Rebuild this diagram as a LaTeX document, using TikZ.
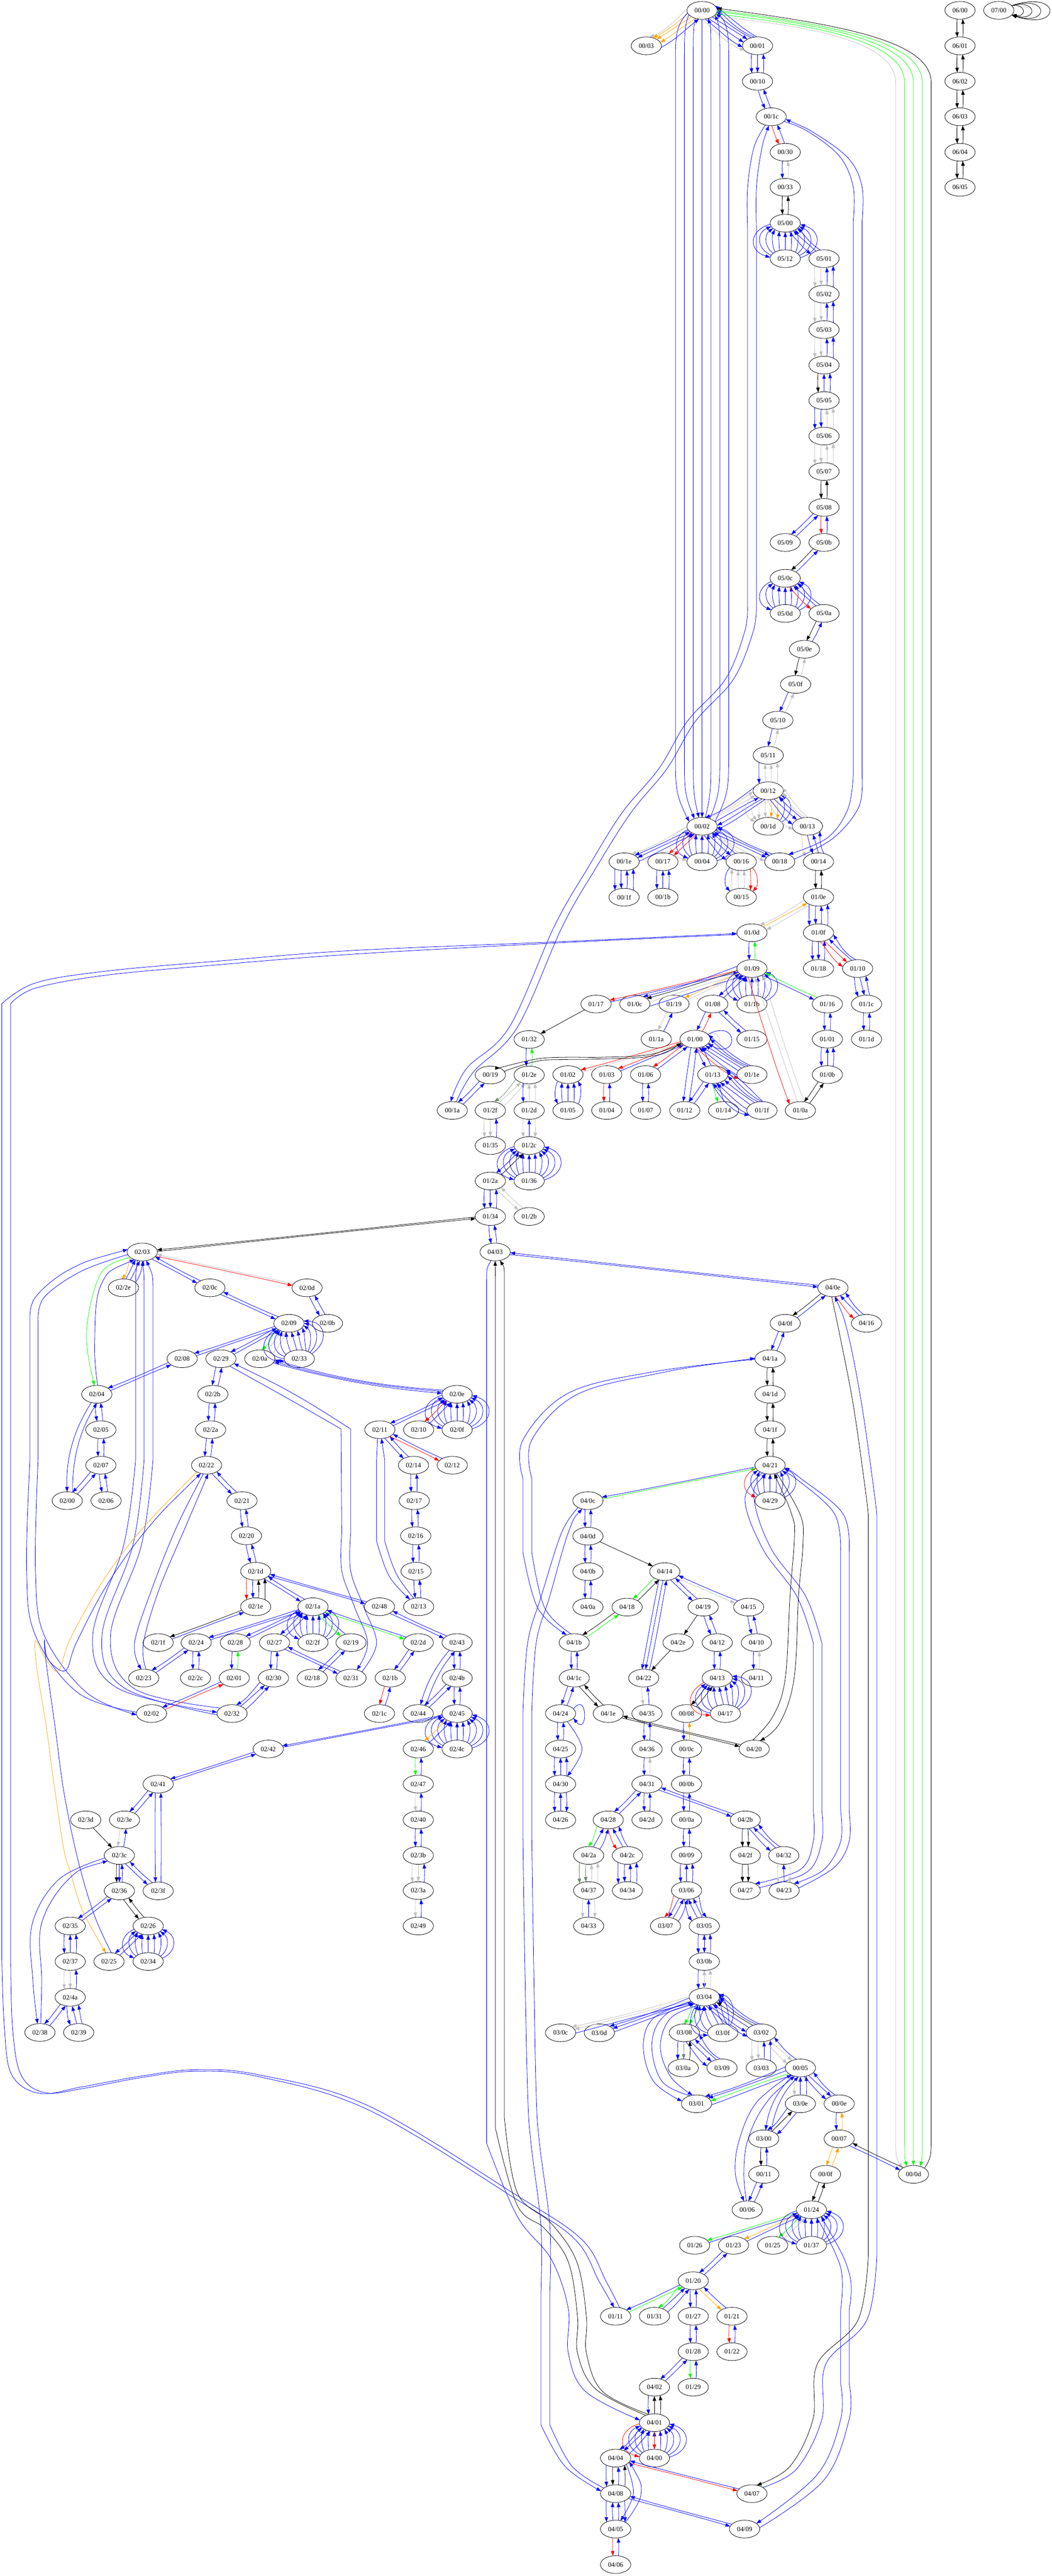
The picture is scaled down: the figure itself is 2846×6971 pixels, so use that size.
\documentclass[tikz,border=0pt]{standalone}
\usepackage{fontspec}
\setmainfont{Liberation Serif}
\usepackage{xcolor}
\usetikzlibrary{arrows.meta,shapes.geometric,calc}

\definecolor{wiregray}{HTML}{C0C0C0}
\definecolor{wireorange}{HTML}{FFA500}
\definecolor{wiresea}{HTML}{698B69}

\tikzset{
    state/.style={draw, ellipse, line width=1.1pt, inner sep=0pt, outer sep=0pt, minimum width=82pt, minimum height=48pt},
    wire/.style={line width=1.1pt},
    tipF/.style={wire, -{Triangle[length=13pt,width=9.5pt]}},
    tipB/.style={wire, {Triangle[length=13pt,width=9.5pt]}-},
    bF/.style={tipF, blue}, bB/.style={tipB, blue},
    kF/.style={tipF, black}, kB/.style={tipB, black},
    gF/.style={tipF, wiregray}, gB/.style={tipB, wiregray},
    rF/.style={tipF, red}, rB/.style={tipB, red},
    nF/.style={tipF, green}, nB/.style={tipB, green},
    oF/.style={tipF, wireorange}, oB/.style={tipB, wireorange},
    sF/.style={tipF, wiresea}, sB/.style={tipB, wiresea},
    tube/.style={smooth, tension=.6}
}

% parallel edges between two states, listed from the right-hand side of travel
\pgfkeys{/fan/.cd, gap/.store in=\fanGap, bow/.store in=\fanBow}
\newcommand{\fan}[4][]{%
  \begingroup
  \pgfkeys{/fan/.cd, gap=0, bow=0, #1}%
  \pgfpointdiff{\pgfpointanchor{#2}{center}}{\pgfpointanchor{#3}{center}}%
  \pgfgetlastxy{\fanX}{\fanY}%
  \pgfmathsetmacro\fanDir{atan2(\fanY,\fanX)}%
  \pgfmathsetmacro\fanLen{veclen(\fanX,\fanY)}%
  \pgfmathsetmacro\fanStep{\fanGap>0 ? \fanGap : max(17*abs(sin(\fanDir)),3)}%
  \pgfmathsetmacro\fanAlong{max((\fanLen-44)*0.33,8)}%
  \foreach \fanS [count=\fanK] in {#4}{\xdef\fanN{\fanK}}%
  \foreach \fanS [count=\fanK] in {#4}{%
    \pgfmathsetmacro\fanW{\fanStep*((\fanN+1)/2-\fanK)}%
    \pgfmathsetmacro\fanAbs{abs(\fanW)}%
    \pgfmathsetmacro\fanB{(\fanAbs<=25 ? 2.1*\fanAbs : 52.5+0.55*(\fanAbs-25))*(\fanW<0 ? -1 : 1)}%
    \pgfmathsetmacro\fanP{mod(\fanDir-\fanB+720,360)}%
    \pgfmathsetmacro\fanQ{mod(\fanDir+180+\fanB+720,360)}%
    \pgfmathsetmacro\fanR{984/veclen(24*cos(\fanP),41*sin(\fanP))}%
    \pgfmathsetmacro\fanSide{4/3*(\fanW-\fanR*sin(\fanB)+\fanBow)}%
    \pgfmathsetmacro\fanC{atan2(\fanSide,\fanAlong)}%
    \pgfmathsetmacro\fanL{veclen(\fanSide,\fanAlong)}%
    \pgfmathsetmacro\fanCa{\fanDir-\fanC}%
    \pgfmathsetmacro\fanCb{\fanDir+180+\fanC}%
    \draw[\fanS] (#2.\fanP) .. controls +(\fanCa:\fanL pt) and +(\fanCb:\fanL pt) .. (#3.\fanQ);
  }%
  \endgroup
}

\begin{document}
\begin{tikzpicture}[x=1pt, y=-1pt, font=\fontsize{18}{20}\selectfont]
\useasboundingbox (0,0) rectangle (2846,6971);

% States
\foreach \pg/\id/\x/\y in {
  00/00/1900/28, 00/03/1749/124, 00/01/2050/124, 00/10/2050/220, 00/1c/2087/316, 00/30/2125/412, 00/33/2125/507,
  05/00/2125/604, 05/12/2125/700, 05/01/2230/700, 05/02/2230/796, 05/03/2230/892, 05/04/2230/988, 05/05/2230/1084,
  05/06/2230/1180, 05/07/2230/1276, 05/08/2230/1373, 05/09/2125/1468, 05/0b/2230/1468, 05/0c/2125/1565,
  05/0d/2125/1660, 05/0a/2230/1660, 05/0e/2177/1757, 05/0f/2153/1852, 05/10/2105/1949, 05/11/2079/2044,
  06/00/2598/28, 06/01/2598/124, 06/02/2598/220, 06/03/2598/316, 06/04/2598/412, 06/05/2598/507, 07/00/2703/28,
  00/12/2079/2140, 00/02/1900/2236, 00/1d/2079/2236, 00/13/2185/2236, 00/1e/1689/2332, 00/17/1794/2332,
  00/04/1900/2332, 00/16/2006/2332, 00/18/2110/2332, 00/14/2215/2332, 00/1f/1689/2428, 00/1b/1794/2428,
  00/15/2006/2428, 01/0e/2215/2428, 01/0d/2035/2524, 01/0f/2215/2524, 01/09/2035/2621, 01/18/2215/2621,
  01/10/2321/2621, 01/17/1613/2717, 01/0c/1718/2717, 01/19/1824/2717, 01/08/1929/2717, 01/1b/2035/2717,
  01/16/2239/2717, 01/1c/2345/2717, 01/32/1432/2813, 01/1a/1776/2812, 01/00/1881/2812, 01/15/2035/2812,
  01/01/2239/2812, 01/1d/2345/2812, 00/19/1327/2909, 01/2e/1432/2909, 01/02/1537/2908, 01/03/1642/2908,
  01/06/1747/2908, 01/13/1929/2908, 01/1e/2035/2908, 01/0b/2239/2908, 00/1a/1224/3005, 01/2f/1327/3005,
  01/2d/1432/3005, 01/05/1537/3005, 01/04/1642/3005, 01/07/1747/3005, 01/12/1853/3005, 01/14/1958/3005,
  01/1f/2062/3005, 01/0a/2166/3005, 01/35/1327/3100, 01/2c/1432/3100, 01/2a/1327/3196, 01/36/1432/3196,
  01/34/1327/3292, 01/2b/1432/3292, 04/03/1340/3388,
  02/03/385/3388, 02/2e/334/3485, 02/0c/568/3485, 02/0d/831/3485, 02/09/782/3581, 02/0b/886/3581, 02/08/493/3677,
  02/29/598/3677, 02/0a/703/3677, 02/33/810/3677, 02/04/262/3773, 02/2b/576/3773, 02/0e/1237/3773, 02/05/273/3869,
  02/2a/570/3869, 02/11/1028/3869, 02/10/1133/3869, 02/0f/1237/3869, 02/07/273/3965, 02/22/559/3965, 02/14/1119/3965,
  02/12/1224/3965, 02/00/182/4061, 02/06/287/4061, 02/21/655/4061, 02/17/1121/4061, 02/20/667/4156, 02/16/1125/4156,
  02/1d/692/4252, 02/15/1126/4252, 02/1e/692/4348, 02/1a/847/4348, 02/48/1027/4348, 02/13/1133/4348, 02/1f/428/4445,
  02/24/531/4445, 02/28/637/4445, 02/27/743/4445, 02/2f/847/4445, 02/19/950/4445, 02/2d/1132/4445, 02/43/1237/4445,
  02/23/389/4541, 02/2c/529/4541, 02/01/634/4541, 02/30/740/4541, 02/18/845/4541, 02/31/950/4541, 02/1b/1056/4541,
  02/4b/1237/4541, 02/02/410/4637, 02/32/628/4637, 02/1c/1027/4637, 02/44/1132/4637, 02/45/1237/4637, 02/42/726/4733,
  02/46/1132/4733, 02/4c/1237/4733, 02/41/428/4828, 02/47/1132/4828, 02/3d/232/4925, 02/3e/337/4925, 02/40/1132/4925,
  02/3b/1132/5021, 02/3a/1132/5116, 02/49/1132/5212, 02/3c/323/5021, 02/36/323/5117, 02/3f/428/5117, 02/35/190/5212,
  02/26/401/5212, 02/37/190/5308, 02/25/295/5308, 02/34/401/5308, 02/4a/190/5405, 02/38/108/5500, 02/39/213/5500,
  04/0e/2254/3485, 04/0f/2125/3581, 04/16/2345/3581, 04/1a/2084/3677, 04/1d/2084/3773, 04/1f/2084/3869, 04/21/2084/3965,
  04/0c/1591/4061, 04/29/2084/4061, 04/0d/1591/4157, 04/14/1799/4253, 04/0b/1591/4253, 04/0a/1591/4349, 04/18/1697/4349,
  04/19/1903/4349, 04/15/2026/4349, 04/1b/1554/4445, 04/2e/1835/4445, 04/12/1941/4445, 04/10/2047/4445, 04/1c/1554/4541,
  04/22/1742/4541, 04/13/1941/4541, 04/11/2047/4541, 04/24/1517/4637, 04/1e/1646/4637, 04/35/1751/4637, 00/08/1858/4637,
  04/17/1963/4637, 04/25/1517/4733, 04/36/1751/4733, 00/0c/1858/4733, 04/20/2041/4733, 04/30/1517/4828, 04/31/1751/4828,
  00/0b/1858/4828, 04/26/1517/4925, 04/28/1646/4925, 04/2d/1751/4925, 00/0a/1858/4925, 04/2b/2017/4925, 04/2a/1593/5021,
  04/2c/1698/5021, 00/09/1858/5021, 04/2f/2017/5021, 04/32/2121/5021, 04/37/1593/5116, 04/34/1698/5116, 03/06/1858/5116,
  04/27/2017/5116, 04/23/2122/5116, 04/33/1593/5212, 03/07/1801/5212, 03/05/1906/5212, 03/0b/1906/5308, 03/04/1906/5404,
  03/0c/1517/5501, 03/0d/1622/5501, 03/08/1852/5501, 03/0f/1956/5501, 03/02/2060/5501, 03/0a/1849/5596, 03/09/1954/5596,
  03/03/2060/5596, 00/05/2166/5596, 03/01/1885/5693, 03/0e/2166/5693, 00/0e/2271/5693, 03/00/2067/5788, 00/07/2271/5788,
  00/11/2067/5884, 00/0f/2234/5884, 00/0d/2472/5884, 00/06/2022/5980, 01/24/2196/5980, 01/26/1880/6076, 01/23/1985/6076,
  01/25/2091/6076, 01/37/2196/6076, 01/20/1876/6172, 01/11/1666/6268, 01/31/1771/6268, 01/27/1876/6268, 01/21/1981/6268,
  01/28/1876/6364, 01/22/1981/6364, 04/02/1771/6460, 01/29/1876/6460, 04/01/1771/6556, 04/04/1666/6652, 04/00/1771/6652,
  04/08/1666/6748, 04/07/2035/6748, 04/05/1666/6844, 04/09/2015/6844, 04/06/1666/6940}
  \node[state] (n\pg\id) at (\x,\y) {\pg/\id};

% Plain pairs
\foreach \a/\b in {n0010/n001c, n0508/n0509, n0116/n0101, n011c/n011d, n0108/n0115, n0100/n0113, n0100/n0112, n0113/n0112,
  n0019/n001a, n0134/n0403, n0106/n0107, n0203/n020c, n020c/n0209, n020d/n020b, n0209/n0208, n0209/n0229, n0208/n0204,
  n0229/n022b, n022b/n022a, n022a/n0222, n0211/n0214, n020e/n0211, n0214/n0217, n0217/n0216, n0216/n0215, n0215/n0213,
  n0204/n0205, n0205/n0207, n0207/n0200, n0207/n0206, n0222/n0221, n0221/n0220, n0220/n021d, n021d/n021a, n021d/n0248,
  n0248/n0243, n021a/n0224, n021a/n0228, n021a/n0227, n0224/n0223, n0224/n022c, n0227/n0230, n0227/n0231, n0219/n0218,
  n022d/n021b, n0243/n024b, n024b/n0245, n024b/n0244, n0245/n0242, n0242/n0241, n0241/n023e, n0241/n023f, n023c/n023f,
  n0236/n0235, n024a/n0238, n0226/n0225, n0240/n023b, n0403/n040e, n040f/n041a, n040c/n040d, n040d/n040b, n040b/n040a,
  n0414/n0419, n0419/n0412, n0412/n0413, n0415/n0410, n041b/n041c, n041c/n0424, n0435/n0436, n000c/n000b, n000b/n000a,
  n000a/n0009, n0424/n0425, n0431/n0428, n0431/n042d, n0431/n042b, n0011/n0006, n0123/n0120, n0120/n0127, n0127/n0128,
  n0128/n0402, n0408/n0409}
  \fan{\a}{\b}{bF,bB};
\foreach \a/\b in {n0033/n0500, n0507/n0508, n0014/n010e, n010b/n010a, n0236/n0226, n041a/n041d, n041d/n041f, n041f/n0421,
  n041c/n041e, n0413/n0008, n041e/n0420, n000f/n0124, n0600/n0601, n0601/n0602, n0602/n0603, n0603/n0604, n0604/n0605,
  n0134/n0203}
  \fan{\a}{\b}{kF,kB};

% Page 00 and 05
\fan{n0000}{n0003}{gF,oF,oF,oF,bB}
\fan[gap=9]{n0000}{n0001}{gF,bF,bF,bF,bB,bB,bB}
\fan{n0001}{n0010}{bF,bF,bB}
\fan{n001c}{n0030}{rF,bB}
\fan{n0030}{n0033}{bF,gB}
\fan{n0500}{n0512}{bF,bB,bB,bB,bB,bB,bB,bB,bB,bB,bB}
\fan{n0500}{n0501}{bF,bB,bB}
\foreach \a/\b in {n0501/n0502, n0502/n0503, n0503/n0504}
  \fan{\a}{\b}{gF,gF,bB,bB};
\fan{n0504}{n0505}{kF,bB,bB}
\fan{n0505}{n0506}{bF,bF,gB,gB}
\fan{n0506}{n0507}{gF,gF,gB,gB}
\fan{n0508}{n050b}{rF,bB}
\fan{n050b}{n050c}{kF,bB}
\fan{n050c}{n050d}{bF,bB,bB,bB,bB,bB,bB,bB,bB}
\fan{n050c}{n050a}{rF,bB,bB}
\fan{n050a}{n050e}{kF,bB}
\fan{n050e}{n050f}{kF,gB}
\fan{n050f}{n0510}{bF,gB}
\fan{n0510}{n0511}{bF,gB}
\fan{n0511}{n0012}{bF,gB,gB,gB}
\fan[gap=8]{n0012}{n0002}{bF,gB,gB,bB,bF,bF}
\fan{n0012}{n001d}{gF,gF,gF,gF,oF,oF,bB,bB}
\fan{n0012}{n0013}{gF,bF,bF,bB,gB,gB}
\fan{n0002}{n001e}{gF,bF,bF,bB}
\fan{n0002}{n0017}{rF,rF}
\fan{n0002}{n0004}{gF,bF,bB,bB,bB,bB,bB,bB,bB,bB,bB}
\fan{n0002}{n0016}{bF,bF,bB,gB}
\fan{n0002}{n0018}{gF,bF,bF,bB}
\fan{n0013}{n0014}{gF,bF,bB,bB}
\fan{n001e}{n001f}{bF,bF,bB,bB}
\fan{n0017}{n001b}{bF,bB,bB}
\fan{n0016}{n0015}{bF,gB,gB,gB,rF,rF}

% Long runs from 00/00
\foreach \x/\sty/\aA/\aB in {1828/bF/190/160, 1852/bF/198/135, 1876/bF/230/110, 1900/bF/270/90,
  1924/bB/305/70, 1948/bB/340/45, 1972/bB/355/20}
  \draw[\sty] (n0000.\aA) .. controls (\x,70) and (\x,100) .. (\x,170) -- (\x,2040) .. controls (\x,2130) and (\x,2150) .. (n0002.\aB);
\foreach \x/\sty/\aA/\aB in {2424/gF/330/151, 2448/nF/345/130, 2472/nF/355/90, 2496/nF/0/50, 2520/kB/8/29}
  \draw[\sty] (n0000.\aA) .. controls ({\x-220},70) and (\x,115) .. (\x,224) -- (\x,5780) .. controls (\x,5830) and (\x,5840) .. (n000d.\aB);
\draw[bF] plot[tube] coordinates {(n001c.235) (2040,400) (2023,510) (2023,620)} -- plot[tube] coordinates {(2023,1640) (2015,1710) (1963,1838) (1860,1952) (1783,2080) (1683,2200) (1590,2350) (1500,2507) (1378,2780) (1263,2891) (n001a.100)};
\draw[bB] plot[tube] coordinates {(n001c.255) (2060,410) (2047,510) (2047,620)} -- plot[tube] coordinates {(2047,1640) (2038,1710) (1985,1838) (1882,1952) (1805,2080) (1707,2200) (1612,2350) (1522,2507) (1400,2780) (1282,2900) (n001a.65)};
\draw[bF] plot[tube] coordinates {(n001c.340) (2187,356) (2272,423) (2309,506) (2309,600)} -- plot[tube] coordinates {(2309,2100) (2294,2191) (2238,2268) (n0018.40)};
\draw[bB] plot[tube] coordinates {(n001c.350) (2212,365) (2298,431) (2333,506) (2333,600)} -- plot[tube] coordinates {(2333,2100) (2324,2184) (2255,2268) (n0018.10)};

% Page 01
\fan{n010e}{n010d}{gF,oB,gF}
\fan{n010e}{n010f}{bF,bF,bB,bB}
\fan{n010d}{n0109}{bF,nB}
\fan{n010f}{n0118}{bF,bF,bB}
\fan{n010f}{n0110}{rF,rF,bB,bB}
\fan{n0110}{n011c}{bF,bF,bB}
\fan{n0109}{n0117}{rF,bB}
\fan[gap=8]{n0109}{n010c}{bF,kF,gB,bB}
\fan{n0109}{n0119}{oF,gB}
\fan{n0109}{n0108}{bF,bB}
\fan{n0109}{n011b}{bF,bB,bB,bB,bB,bB,bB,bB,bB}
\fan{n0109}{n0116}{bF,nB}
\fan[gap=20]{n0109}{n010a}{rF,gB,gB}
\fan{n0119}{n011a}{gF,bB}
\fan{n0108}{n0100}{bF,rB}
\fan{n0101}{n010b}{bF,bB,bB}
\fan{n0100}{n0102}{rF,gB}
\fan{n0100}{n0103}{rF,bB}
\fan{n0100}{n0106}{rF,bB}
\fan[gap=8]{n0100}{n011e}{rF,bB,bB,bB,bB,bB,bB}
\fan{n0113}{n0114}{nF,bB}
\fan{n0113}{n011f}{bF,bB,bB,bB,bB,bB,bB,bB}
\fan{n0102}{n0105}{bF,bB,bB,bB,bB}
\fan{n0103}{n0104}{rF,bB}
\fan{n0117}{n0132}{kF}
\fan{n0132}{n012e}{bF,nB}
\fan{n012e}{n012f}{sF,gB,gB}
\fan{n012e}{n012d}{bF,gB,gB}
\fan{n012f}{n0135}{gF,gF,bB}
\fan{n012d}{n012c}{gF,bB,gF}
\fan{n012c}{n0136}{bF,bB,bB,bB,bB,bB,bB,bB,bB,bB,bB}
\fan{n012c}{n012a}{bF,kB}
\fan{n012a}{n0134}{bF,bF,bB}
\fan{n012a}{n012b}{gF,gB}
\foreach \X/\h/\sty in {1955/28/gF, 2000/58/bF}
  \draw[\sty] (n0100.20) .. controls (\X,{2812-\h}) and (\X,{2812+\h}) .. (n0100.340);
\foreach \X/\h in {1591/62}
  \draw[bF] (n0424.20) .. controls (\X,{4637-\h}) and (\X,{4637+\h}) .. (n0424.340);
\foreach \X/\h in {2769/18, 2792/30, 2816/44, 2841/58}
  \draw[kF] (n0700.20) .. controls ({(\X-685.5)/.75},{28-\h}) and ({(\X-685.5)/.75},{28+\h}) .. (n0700.340);
\draw[kF] plot[tube] coordinates {(n0100.200) (1757,2854) (1629,2861) (1534,2861) (1457,2865) (1365,2886) (n0019.35)};
\draw[kB] plot[tube] coordinates {(n0100.195) (1763,2858) (1610,2866) (1534,2867) (1457,2871) (1375,2895) (n0019.10)};

% 01/0d round the left edge to 01/11
\draw[bB] plot[tube] coordinates {(n010d.183) (1500,2549) (957,2572) (600,2600) (287,2628) (96,2660) (5,2716)} -- plot[tube] coordinates {(5,5300) (12,5488) (32,5615) (108,5665) (223,5647) (383,5618) (529,5601) (702,5615) (1000,5700) (1400,5942) (1575,6061) (1640,6173) (n0111.65)};
\draw[bF] plot[tube] coordinates {(n010d.187) (1500,2552) (957,2582) (600,2610) (287,2639) (96,2674) (29,2716)} -- plot[tube] coordinates {(29,5300) (34,5488) (57,5615) (121,5663) (223,5652) (383,5622) (529,5605) (702,5620) (1000,5711) (1400,5953) (1557,6061) (1621,6173) (n0111.100)};

% Page 02
\fan{n0203}{n020d}{rF,gB}
\fan[gap=12]{n0203}{n022e}{oF,bB,bB,bB}
\draw[nF] plot[tube] coordinates {(n0203.205) (273,3446) (234,3606) (n0204.105)};
\draw[bB] plot[tube] coordinates {(n0203.225) (273,3478) (256,3638) (n0204.85)};
\draw[bB] plot[tube] coordinates {(n0203.170) (191,3434) (96,3510) (81,3574)} -- plot[tube] coordinates {(81,3950) (72,4251) (96,4426) (211,4581) (n0202.175)};
\draw[bF] plot[tube] coordinates {(n0203.190) (220,3440) (120,3510) (103,3574)} -- plot[tube] coordinates {(103,3950) (96,4251) (120,4426) (234,4580) (n0202.185)};
\draw[bF] (n0203.240) .. controls (367,3450) .. (367,3500) -- (367,3950) -- plot[tube] coordinates {(367,3950) (335,4180) (251,4426) (316,4567) (n0232.175)};
\draw[bB] (n0203.270) .. controls (390,3450) .. (390,3500) -- (390,3950) -- plot[tube] coordinates {(390,3950) (360,4180) (276,4426) (335,4567) (n0232.185)};
\draw[bB] (n0203.295) .. controls (414,3450) .. (414,3500) -- (414,3950) -- plot[tube] coordinates {(414,3950) (383,4180) (299,4426) (364,4570) (n0232.155)};
\fan{n0209}{n020a}{nF,gB,gB}
\fan{n0209}{n0233}{bF,bB,bB,bB,bB,bB,bB,bB,bB,bB,bB}
\draw[bF] plot[tube] coordinates {(n0229.320) (780,3785) (923,3867)} -- plot[tube] coordinates {(925,4150) (925,4251) (960,4350) (995,4447) (n0231.55)};
\draw[bB] plot[tube] coordinates {(n0229.340) (800,3775) (949,3867)} -- plot[tube] coordinates {(949,4150) (949,4251) (985,4350) (1019,4447) (n0231.30)};
\fan[bow=13]{n020a}{n020e}{bF,bB,bB}
\fan{n020e}{n020f}{bF,bB,bB,bB,bB,bB,bB,bB,bB,bB,bB}
\fan{n020e}{n0210}{rF,bB}
\fan{n0211}{n0212}{rF,bB}
\draw[bF] plot[tube] coordinates {(n0211.255) (1019,3950)} -- plot[tube] coordinates {(1019,4170) (1053,4265) (n0213.140)};
\draw[bB] plot[tube] coordinates {(n0211.280) (1041,3950)} -- plot[tube] coordinates {(1041,4170) (1072,4258) (n0213.120)};
\fan[bow=20]{n0204}{n0200}{bF,bB}
\fan{n021d}{n021e}{rF,bF,kB,kB}
\fan{n021e}{n021f}{kF,bB}
\fan{n021a}{n022f}{bF,bB,bB,bB,bB,bB,bB,bB,bB}
\fan{n021a}{n0219}{nF,bB}
\fan{n021a}{n022d}{nF,bB}
\fan{n0228}{n0201}{bF,nB}
\fan{n021b}{n021c}{rF,bB}
\fan[bow=10]{n0243}{n0244}{bF,bB}
\fan{n0201}{n0202}{bF,rB}
\fan{n0230}{n0232}{bF,bB,bB}
\draw[bF] plot[tube] coordinates {(n0222.250) (478,4132) (411,4300) (364,4447) (n0223.105)};
\draw[bB] plot[tube] coordinates {(n0222.280) (502,4132) (431,4300) (388,4447) (n0223.75)};
\draw[oF] plot[tube] coordinates {(n0222.215) (383,4139) (278,4279) (191,4433) (158,4521) (124,4489) (96,4440) (100,4517) (125,4670) (144,4812) (172,5000) (191,5067) (223,5169) (n0225.110)};
\draw[bB] plot[tube] coordinates {(n0222.235) (397,4139) (287,4293) (206,4447) (177,4521) (130,4490) (120,4437) (125,4500) (150,4680) (173,4850) (210,5029) (255,5182) (n0225.75)};
\fan{n0245}{n024c}{bF,bB,bB,bB,bB,bB,bB,bB,bB,bB,bB}
\fan{n0245}{n0246}{oF,bB}
\fan{n0246}{n0247}{nF,bB}
\fan{n0247}{n0240}{gF,bB}
\fan{n023b}{n023a}{gF,gF,bB}
\fan{n023a}{n0249}{gF,bB}
\fan{n023e}{n023c}{gF,bB}
\fan{n023d}{n023c}{kF}
\fan[gap=8]{n023c}{n0236}{kF,bF,bB}
\draw[bF] plot[tube] coordinates {(n023c.190) (159,5086) (87,5207) (89,5360) (n0238.105)};
\draw[bB] plot[tube] coordinates {(n023c.205) (185,5086) (112,5207) (113,5360) (n0238.85)};
\fan{n0235}{n0237}{bF,bB,bB}
\fan{n0237}{n024a}{gF,gF,bB}
\fan{n024a}{n0239}{bF,bB,bB}
\fan{n0226}{n0234}{bF,bB,bB,bB,bB,bB,bB,bB,bB}

% Page 04 and 03
\draw[bF] (n0403.245) .. controls (1317,3430) .. (1317,3470) -- (1317,5800) -- plot[tube] coordinates {(1317,5800) (1400,5998) (1492,6114) (1538,6248) (1538,6368) (1585,6472) (n0401.170)};
\draw[kB] (n0403.270) -- (1341,3470) -- (1341,5760) -- plot[tube] coordinates {(1341,5760) (1400,5968) (1474,6031) (1538,6121) (1563,6270) (1563,6368) (1612,6465) (n0401.140)};
\draw[kB] (n0403.300) .. controls (1365,3430) .. (1365,3470) -- (1365,5730) -- plot[tube] coordinates {(1365,5730) (1400,5934) (1492,6017) (1561,6121) (1587,6270) (1587,6368) (1631,6472) (n0401.125)};
\fan{n040e}{n040f}{kF,bB}
\fan{n040e}{n0416}{rF,bB,bB}
\fan{n0421}{n040c}{bF,nB}
\fan{n0421}{n0429}{rF,bB,bB,bB,bB,bB,bB,bB,bB}
\draw[bF] plot[tube] coordinates {(n0421.225) (2016,4057) (2064,4191) (2156,4319) (2201,4446)} -- plot[tube] coordinates {(2201,4900) (2201,4983) (2166,5059) (n0427.35)};
\draw[bB] plot[tube] coordinates {(n0421.245) (2041,4057) (2087,4191) (2180,4319) (2224,4446)} -- plot[tube] coordinates {(2224,4900) (2224,4983) (2184,5066) (n0427.12)};
\draw[bF] plot[tube] coordinates {(n0421.335) (2156,4003) (2258,4096) (2275,4200)} -- plot[tube] coordinates {(2275,4900) (2275,4983) (2230,5059) (n0423.35)};
\draw[bB] plot[tube] coordinates {(n0421.350) (2166,4000) (2281,4096) (2298,4200)} -- plot[tube] coordinates {(2298,4900) (2298,4983) (2258,5053) (n0423.10)};
\draw[kB] plot[tube] coordinates {(n0421.295) (2143,4100) (2150,4159) (2138,4319) (2125,4542) (2092,4644) (n0420.100)};
\draw[kF] plot[tube] coordinates {(n0421.310) (2166,4100) (2173,4179) (2161,4319) (2149,4542) (2110,4663) (n0420.55)};
\draw[bB] plot[tube] coordinates {(n041a.178) (1769,3719) (1557,3776) (1439,3897) (1439,4000)} -- plot[tube] coordinates {(1439,4200) (1474,4351) (n041b.110)};
\draw[bF] plot[tube] coordinates {(n041a.182) (1769,3712) (1538,3770) (1415,3897) (1415,4000)} -- plot[tube] coordinates {(1415,4200) (1455,4351) (n041b.135)};
\draw[bF] plot[tube] coordinates {(n040c.215) (1520,4147) (1465,4319) (1428,4446) (1415,4638)} -- plot[tube] coordinates {(1415,4957) (1420,5300) (1428,5665) (1437,5800) (1464,6024) (1464,6200)} -- plot[tube] coordinates {(1464,6562) (1529,6674) (n0408.170)};
\draw[bB] plot[tube] coordinates {(n040c.235) (1538,4147) (1488,4319) (1451,4446) (1439,4638)} -- plot[tube] coordinates {(1439,4957) (1444,5300) (1451,5665) (1460,5800) (1488,6024) (1488,6200)} -- plot[tube] coordinates {(1488,6562) (1548,6674) (n0408.155)};
\fan{n040d}{n0414}{kF}
\fan{n0414}{n0418}{nF,kB}
\fan{n0418}{n041b}{kF,nB}
\fan[gap=11]{n0414}{n0422}{bF,bF,bB}
\fan{n0414}{n0415}{gF,bB}
\fan{n0419}{n042e}{kF}
\fan{n042e}{n0422}{kF}
\fan{n0410}{n0411}{bF,gB}
\fan{n0413}{n0417}{rF,bB,bB,bB,bB,bB,bB,bB,bB,bB,bB}
\fan{n0422}{n0435}{gF,bB}
\fan{n0436}{n0431}{bF,gB}
\fan{n0008}{n000c}{bF,oB}
\draw[bF] plot[tube] coordinates {(n0424.310) (1575,4733) (n0430.50)};
\fan{n0425}{n0430}{bF,bB,bB}
\fan{n0430}{n0426}{bF,bB,bF}
\fan{n0428}{n042a}{nF,bB,bB}
\fan{n0428}{n042c}{rF,bB,bB}
\fan{n042a}{n0437}{sF,sF,gB,gB}
\fan{n042c}{n0434}{bF,bF,bB,bB}
\fan{n0437}{n0433}{gF,bB,gF}
\fan{n042b}{n042f}{kF,kF}
\fan{n042b}{n0432}{bF,bB,bB}
\fan{n042f}{n0427}{kF,kF}
\fan{n0432}{n0423}{gF,bB,gF}
\fan{n0009}{n0306}{bF,bB,bB}
\fan[gap=12]{n0306}{n0307}{rF,bF,bB,bB}
\fan[gap=13]{n0306}{n0305}{bF,bB,bB,bF}
\fan{n0305}{n030b}{bF,bB,bB}
\fan{n0305}{n030b}{bF}
\fan{n030b}{n0304}{bF,bF,gB}
\fan{n030b}{n0304}{gB}
\fan[gap=7]{n0304}{n030c}{gF,gF,bB}
\fan[gap=7]{n0304}{n030d}{bF,bF,bB}
\fan{n0304}{n0308}{nF,nF,bB}
\fan{n0304}{n030f}{bF,bB,bB,bB,bB,bB,bB,bB,bB}
\fan{n0304}{n0302}{bF,bF,bB,kB,bB,bB}
\fan{n0308}{n030a}{bF,sF,kB}
\fan{n0308}{n0309}{bF,bF,bB,bB}
\fan{n0302}{n0303}{gF,gF,bB,bB}
\fan{n0302}{n0005}{gF,gF,bB}
\draw[bF] plot[tube] coordinates {(n0304.200) (1769,5461) (1741,5538) (1769,5633) (n0301.170)};
\draw[bB] plot[tube] coordinates {(n0304.215) (1792,5461) (1764,5538) (1792,5633) (n0301.130)};
\draw[bF] plot[tube] coordinates {(n0304.235) (1815,5461) (1787,5538) (1815,5620) (n0301.115)};
\fan[gap=7]{n0005}{n0301}{bF,bF,nF,bB}
\fan{n0005}{n030e}{gF,bB,bB}
\fan{n0005}{n000e}{bF,bF,bB}
\fan[bow=15]{n0005}{n0300}{bF,bB}
\fan{n030e}{n0300}{bF,kB,bF}
\draw[bF] plot[tube] coordinates {(n0005.215) (2046,5691) (2000,5793) (1990,5882) (n0006.110)};
\draw[bB] plot[tube] coordinates {(n0005.235) (2069,5697) (2023,5793) (2013,5882) (n0006.95)};
\fan{n000e}{n0007}{bF,oB}
\fan{n0007}{n000f}{oF,oB}
\fan{n0007}{n000d}{bF,kB}
\fan{n0300}{n0011}{kF,bB}

% Page 01 bottom and 04/0x
\fan{n0124}{n0126}{nF,bB}
\fan{n0124}{n0123}{oF,bB}
\fan{n0124}{n0125}{nF,gB}
\fan{n0124}{n0137}{bF,bB,bB,bB,bB,bB,bB,bB,bB,bB,bB}
\fan{n0120}{n0111}{bF,nB}
\fan{n0120}{n0131}{nF,bB,bB}
\fan{n0120}{n0121}{oF,bB}
\fan{n0121}{n0122}{rF,bB}
\fan{n0128}{n0129}{nF,bB}
\fan{n0402}{n0401}{bF,kB,kB}
\fan{n0401}{n0400}{rF,bB,bB,bB,bB,bB,bB,bB,bB,bB,bB}
\fan{n0401}{n0400}{rF}
\fan{n0401}{n0404}{bF,bF,bB}
\fan{n0404}{n0407}{rF,bB}
\fan{n0404}{n0408}{bF,kF,bB,kB}
\draw[bF] plot[tube] coordinates {(n0404.330) (1714,6748) (n0405.60)};
\draw[bB] plot[tube] coordinates {(n0404.345) (1735,6748) (n0405.35)};
\fan{n0408}{n0405}{bF,bB,bB,bF}
\fan{n0405}{n0406}{rF,bB}
\draw[kF] plot[tube] coordinates {(n040e.262) (2272,3610) (2309,3801) (2341,4025) (2350,4100)} -- plot[tube] coordinates {(2350,6100) (2322,6278) (2212,6397) (2200,6547) (2138,6674) (n0407.60)};
\draw[bB] plot[tube] coordinates {(n040e.282) (2295,3610) (2332,3801) (2364,4025) (2373,4100)} -- plot[tube] coordinates {(2373,6100) (2346,6278) (2235,6397) (2224,6547) (2156,6681) (n0407.30)};
\draw[bF] plot[tube] coordinates {(n0124.305) (2275,6136) (2275,6250)} -- plot[tube] coordinates {(2275,6450) (2275,6547) (2212,6696) (n0409.25)};
\draw[bB] plot[tube] coordinates {(n0124.325) (2298,6151) (2298,6250)} -- plot[tube] coordinates {(2298,6450) (2298,6547) (2230,6711) (n0409.5)};

\end{tikzpicture}
\end{document}
